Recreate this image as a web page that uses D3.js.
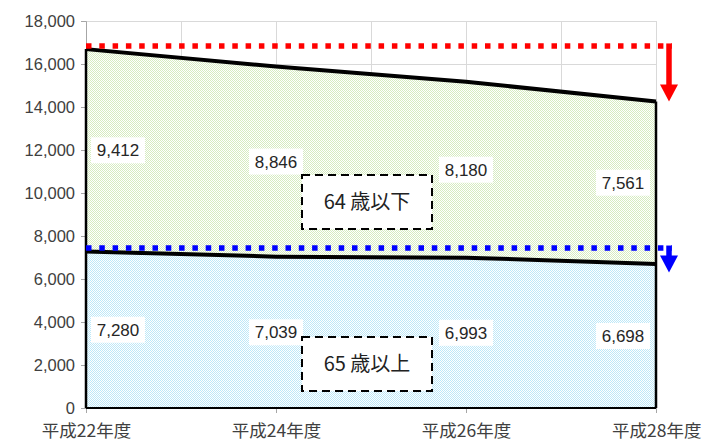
<!DOCTYPE html>
<html>
<head>
<meta charset="utf-8">
<script src="https://cdn.jsdelivr.net/npm/d3@7"></script>
<style>
  html,body{margin:0;padding:0;background:#fff;}
  svg{display:block;}
</style>
</head>
<body>
<script>
// values
const years = ["平成22年度","平成24年度","平成26年度","平成28年度"];
const over65 = [7280, 7039, 6993, 6698];
const under64 = [9412, 8846, 8180, 7561];
const yTicks = [0,2000,4000,6000,8000,10000,12000,14000,16000,18000];
const groupNames = ["64 歳以下","65 歳以上"];
// dotted reference levels (red, blue) and where the arrows end
const refLevels = [16840, 7440];
const arrowEnds = [14259, 6300];

(function(){
  let WIDTH = 702, HEIGHT = 444;
  let svg = d3.select("body").append("svg")
      .attr("width",WIDTH).attr("height",HEIGHT);

  let defs = svg.append("defs");
  // fine 1px checker dots like the excel "dotted" fill
  function dots(id, col){
    let p = defs.append("pattern").attr("id",id)
        .attr("patternUnits","userSpaceOnUse")
        .attr("width",2).attr("height",2);
    p.append("rect").attr("width",2).attr("height",2).attr("fill","#fff");
    p.append("rect").attr("x",0).attr("y",0).attr("width",1).attr("height",1).attr("fill",col);
    p.append("rect").attr("x",1).attr("y",1).attr("width",1).attr("height",1).attr("fill",col);
  }
  dots("pGreen","#d6ecc0");
  dots("pBlue","#bde8f8");

  let x = d3.scalePoint().domain(years).range([86,656]);
  let y = d3.scaleLinear().domain([0,18000]).range([408,21]);

  let rows = years.map((yr,i)=>({year:yr, over65:over65[i], under64:under64[i]}));
  let stack = d3.stack().keys(["over65","under64"])(rows);

  // gridlines
  let half = years.slice(0,-1).map((yr,i)=>(x(yr)+x(years[i+1]))/2);
  let vx = years.map(x).concat(half);
  let grid = svg.append("g").attr("stroke","#d9d9d9").attr("stroke-width",1);
  grid.selectAll("line.h").data(yTicks).enter().append("line")
    .attr("x1",x.range()[0]).attr("x2",x.range()[1])
    .attr("y1",d=>Math.round(y(d))+0.5).attr("y2",d=>Math.round(y(d))+0.5);
  grid.selectAll("line.v").data(vx).enter().append("line")
    .attr("x1",d=>Math.round(d)+0.5).attr("x2",d=>Math.round(d)+0.5)
    .attr("y1",y(18000)).attr("y2",y(0));

  // axes
  let yAxis = svg.append("g").attr("transform","translate(86,0)")
      .call(d3.axisLeft(y).tickValues(yTicks).tickSize(5).tickPadding(6)
            .tickFormat(d3.format(",")));
  let xAxis = svg.append("g").attr("transform","translate(0,408)")
      .call(d3.axisBottom(x).tickSize(5).tickPadding(9));
  [yAxis,xAxis].forEach(a=>{
    a.select(".domain").attr("stroke","#a6a6a6");
    a.selectAll(".tick line").attr("stroke","#a6a6a6");
  });
  yAxis.selectAll("text").attr("font-family","'Liberation Sans',sans-serif")
    .attr("font-size",16.5).attr("fill","#404040");
  xAxis.selectAll("text").attr("font-family","'Noto Sans CJK JP',sans-serif")
    .attr("font-size",17.5)
    .attr("fill","#404040").attr("dy","0.85em");
  // last label would run past the edge: keep it inside
  xAxis.selectAll(".tick text").filter(d=>d===years[years.length-1])
    .attr("text-anchor","end").attr("x",WIDTH-656-1);

  // stacked areas
  let area = d3.area().x(d=>x(d.data.year)).y0(d=>y(d[0])).y1(d=>y(d[1]));
  let fills = ["url(#pBlue)","url(#pGreen)"];
  svg.selectAll("path.band").data(stack).enter().append("path")
    .attr("d",area).attr("fill",(d,i)=>fills[i]).attr("stroke","none");

  // outlines
  let g = svg.append("g").attr("fill","none").attr("stroke","#000");
  let topLine = d3.line().x(d=>x(d.data.year)).y(d=>y(d[1]));
  stack.forEach(s=>{
    g.append("path").attr("d",topLine(s)).attr("stroke-width",4);
  });
  let last = stack[1];
  g.append("line").attr("x1",x(years[0])).attr("x2",x(years[0]))
    .attr("y1",y(0)).attr("y2",y(last[0][1])).attr("stroke-width",2.5);
  g.append("line").attr("x1",x(years[3])).attr("x2",x(years[3]))
    .attr("y1",y(0)).attr("y2",y(last[3][1])).attr("stroke-width",2.5);
  g.append("line").attr("x1",x(years[0])).attr("x2",x(years[3]))
    .attr("y1",y(0)).attr("y2",y(0)).attr("stroke-width",2);

  // data labels: centred in their band, end ones pulled inwards
  let labels = [];
  stack.forEach(s=>{
    s.forEach((d,i)=>{
      labels.push({v:d[1]-d[0], cx:x(d.data.year), cy:y((d[0]+d[1])/2), i:i});
    });
  });
  let lg = svg.append("g");
  labels.forEach(l=>{
    let w = 54, h = 26;
    let cx = l.cx;
    if(l.i===0) cx = l.cx + 32;
    if(l.i===years.length-1) cx = l.cx - 33;
    lg.append("rect").attr("x",cx-w/2).attr("y",l.cy-h/2)
      .attr("width",w).attr("height",h).attr("fill","#fff");
    lg.append("text").attr("x",cx).attr("y",l.cy).attr("dy","0.36em")
      .attr("text-anchor","middle")
      .attr("font-family","'Liberation Sans',sans-serif").attr("font-size",17)
      .attr("fill","#262626").text(d3.format(",")(l.v));
  });

  // group name boxes
  let boxMid = (x(years[1])+x(years[2]))/2 - 4;
  let boxVals = [9580, 2050];
  groupNames.forEach((name,i)=>{
    let cy = y(boxVals[i]);
    svg.append("rect").attr("x",boxMid-65).attr("y",cy-27)
      .attr("width",130).attr("height",54).attr("fill","#fff")
      .attr("stroke","#000").attr("stroke-width",2)
      .attr("stroke-dasharray","8,5");
    svg.append("text").attr("x",boxMid).attr("y",cy).attr("dy","0.36em")
      .attr("text-anchor","middle")
      .attr("font-family","'Noto Sans CJK JP',sans-serif").attr("font-size",20)
      .attr("fill","#222").text(name);
  });

  // dotted reference lines with down arrows
  let refCols = ["#ff0000","#0000ff"];
  let ax = 669;
  refLevels.forEach((v,i)=>{
    let ry = y(v), tip = y(arrowEnds[i]);
    svg.append("line").attr("x1",x(years[0])).attr("x2",ax+3)
      .attr("y1",ry).attr("y2",ry).attr("stroke",refCols[i])
      .attr("stroke-width",5.5).attr("stroke-dasharray","5.5,7.8");
    svg.append("line").attr("x1",ax).attr("x2",ax)
      .attr("y1",ry-2.5).attr("y2",tip-16).attr("stroke",refCols[i])
      .attr("stroke-width",5.5);
    svg.append("path")
      .attr("d",`M${ax-9},${tip-17}L${ax+9},${tip-17}L${ax},${tip}Z`)
      .attr("fill",refCols[i]);
  });
})();
</script>
</body>
</html>
